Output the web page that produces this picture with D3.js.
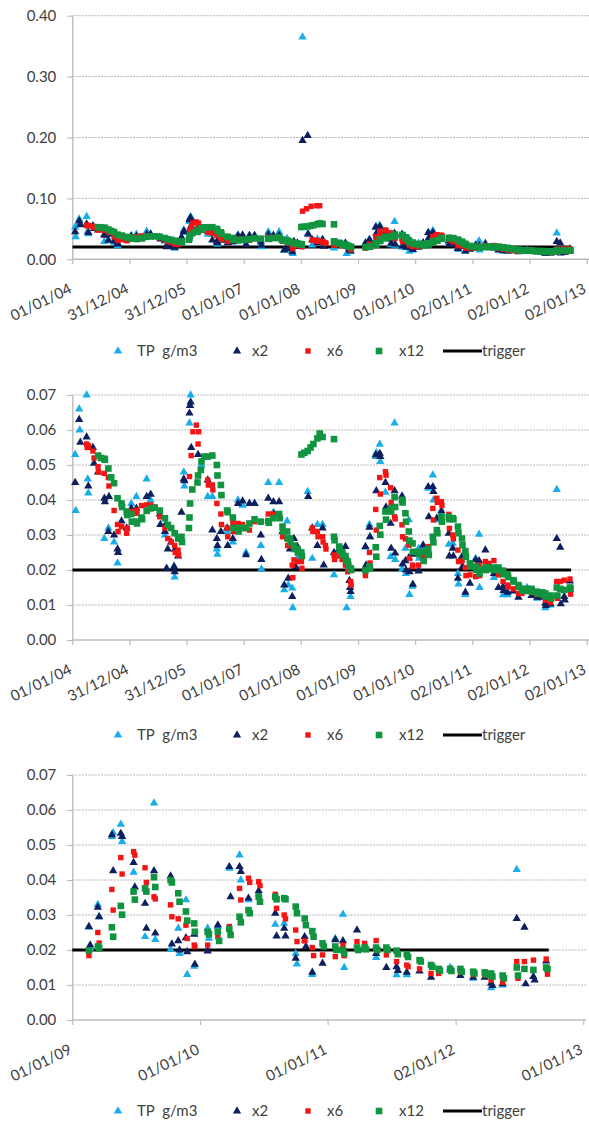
<!DOCTYPE html>
<html>
<head>
<meta charset="utf-8">
<script src="https://cdn.jsdelivr.net/npm/d3@7"></script>
<style>
  body { margin: 0; background: #fff; }
  svg text { font-family: Lato, "Open Sans", sans-serif; fill: #404040; }
</style>
</head>
<body>
<div id="chart"></div>
<script>
// TP sampling results plus the x2 / x6 / x12 series.
// x = decimal year, y = g/m3.
const tpPts = [
  [2004.05,0.053],[2004.06,0.037],[2004.12,0.066],[2004.13,0.060],[2004.25,0.070],[2004.27,0.046],[2004.28,0.042],
  [2004.56,0.029],[2004.63,0.032],[2004.73,0.028],[2004.79,0.022],
  [2005.03,0.039],[2005.12,0.041],[2005.30,0.046],[2005.37,0.040],[2005.62,0.030],[2005.78,0.021],[2005.79,0.018],
  [2005.80,0.026],[2005.95,0.048],[2005.96,0.044],
  [2006.05,0.062],[2006.06,0.067],[2006.07,0.070],[2006.26,0.050],[2006.37,0.041],[2006.45,0.041],[2006.53,0.026],
  [2006.54,0.0245],[2006.71,0.031],[2006.81,0.028],[2006.90,0.040],[2006.98,0.0385],
  [2007.04,0.025],[2007.10,0.039],[2007.19,0.039],[2007.30,0.027],[2007.31,0.0203],[2007.43,0.045],[2007.52,0.0365],
  [2007.62,0.045],[2007.71,0.0143],[2007.76,0.034],[2007.78,0.0157],[2007.85,0.0148],[2007.86,0.0092],[2007.94,0.0233],
  [2008.03,0.365],[2008.12,0.0424],[2008.20,0.0233],[2008.29,0.033],[2008.38,0.033],[2008.58,0.0186],[2008.72,0.026],
  [2008.80,0.0092],[2008.87,0.0124],
  [2009.13,0.0265],[2009.14,0.0205],[2009.20,0.033],[2009.21,0.0295],[2009.31,0.0524],[2009.32,0.0535],[2009.38,0.0559],
  [2009.39,0.051],[2009.48,0.0422],[2009.57,0.0238],[2009.64,0.062],[2009.65,0.023],[2009.77,0.0202],[2009.83,0.0262],
  [2009.84,0.019],[2009.89,0.0343],[2009.90,0.013],[2009.955,0.0153],
  [2010.06,0.0262],[2010.07,0.0233],[2010.14,0.0267],[2010.23,0.0433],[2010.31,0.0471],[2010.32,0.040],[2010.38,0.0343],
  [2010.46,0.036],[2010.59,0.0273],[2010.66,0.0276],[2010.75,0.019],[2010.76,0.016],[2010.82,0.0228],[2010.88,0.013],
  [2011.06,0.0233],[2011.12,0.0302],[2011.13,0.015],[2011.38,0.0178],[2011.54,0.0129],[2011.62,0.0129],[2011.96,0.015],
  [2012.14,0.0119],[2012.28,0.0092],[2012.37,0.0100],[2012.48,0.043]
];

const x2Pts = [
  [2004.05,0.045],[2004.12,0.063],[2004.14,0.0565],[2004.25,0.058],[2004.28,0.044],[2004.36,0.055],[2004.38,0.0505],
  [2004.45,0.048],[2004.56,0.0405],[2004.57,0.0395],[2004.63,0.031],[2004.64,0.041],[2004.73,0.030],[2004.79,0.026],
  [2004.80,0.025],[2004.86,0.034],[2004.95,0.032],
  [2005.03,0.0376],[2005.12,0.0376],[2005.30,0.041],[2005.37,0.0416],[2005.53,0.036],[2005.54,0.033],[2005.62,0.031],
  [2005.63,0.033],[2005.65,0.0205],[2005.67,0.026],[2005.73,0.028],[2005.78,0.021],[2005.79,0.0195],[2005.80,0.026],
  [2005.85,0.024],[2005.91,0.0365],[2005.95,0.046],[2005.96,0.0455],
  [2006.05,0.0648],[2006.06,0.067],[2006.07,0.068],[2006.08,0.055],[2006.20,0.053],[2006.37,0.0457],[2006.45,0.0314],
  [2006.53,0.029],[2006.54,0.027],[2006.60,0.031],[2006.71,0.032],[2006.72,0.027],[2006.81,0.029],[2006.90,0.039],
  [2006.98,0.0397],
  [2007.04,0.0243],[2007.10,0.039],[2007.19,0.039],[2007.30,0.030],[2007.31,0.023],[2007.43,0.0405],[2007.52,0.0395],
  [2007.53,0.036],[2007.62,0.0395],[2007.68,0.031],[2007.71,0.0157],[2007.78,0.0176],[2007.81,0.026],[2007.85,0.0124],
  [2007.88,0.029],[2007.91,0.021],[2007.94,0.0267],
  [2008.03,0.195],[2008.12,0.203],[2008.13,0.041],[2008.20,0.032],[2008.29,0.027],[2008.38,0.032],[2008.40,0.0214],
  [2008.58,0.025],[2008.67,0.026],[2008.78,0.0267],[2008.85,0.017],[2008.86,0.015],[2008.87,0.0138],
  [2009.13,0.0267],[2009.14,0.0214],[2009.20,0.0322],[2009.21,0.0295],[2009.31,0.0529],[2009.32,0.0426],[2009.38,0.0533],
  [2009.39,0.0524],[2009.48,0.045],[2009.49,0.038],[2009.57,0.0333],[2009.58,0.0262],[2009.64,0.0426],[2009.65,0.0248],
  [2009.77,0.0411],[2009.78,0.0217],[2009.83,0.0226],[2009.84,0.020],[2009.89,0.0235],[2009.90,0.0195],[2009.955,0.0245],
  [2009.96,0.0159],
  [2010.06,0.0197],[2010.14,0.0271],[2010.23,0.0438],[2010.24,0.0352],[2010.31,0.0438],[2010.32,0.0424],[2010.38,0.0348],
  [2010.46,0.0369],[2010.59,0.0305],[2010.60,0.024],[2010.66,0.0262],[2010.67,0.024],[2010.75,0.0176],[2010.82,0.0238],
  [2010.83,0.021],[2010.88,0.0136],[2010.96,0.0162],
  [2011.06,0.0229],[2011.12,0.0226],[2011.23,0.0257],[2011.38,0.019],[2011.46,0.015],[2011.54,0.0152],[2011.55,0.0141],
  [2011.62,0.0136],[2011.72,0.014],[2011.81,0.0122],[2011.96,0.0143],
  [2012.04,0.0127],[2012.14,0.0122],[2012.23,0.0122],[2012.28,0.0105],[2012.29,0.0098],[2012.37,0.0103],[2012.48,0.029],
  [2012.54,0.0265],[2012.55,0.0103],[2012.61,0.0124],[2012.62,0.0114],[2012.71,0.0168]
];

const x6Pts = [
  [2004.25,0.056],[2004.26,0.055],[2004.28,0.0555],[2004.36,0.054],[2004.38,0.052],[2004.45,0.0495],[2004.46,0.048],
  [2004.56,0.0476],[2004.63,0.0464],[2004.64,0.044],[2004.73,0.037],[2004.79,0.033],[2004.80,0.031],[2004.86,0.0324],
  [2004.95,0.0305],[2004.96,0.032],
  [2005.03,0.0367],[2005.12,0.037],[2005.13,0.0362],[2005.21,0.0384],[2005.30,0.0386],[2005.37,0.0386],[2005.44,0.038],
  [2005.53,0.0352],[2005.62,0.032],[2005.67,0.029],[2005.73,0.028],[2005.79,0.027],[2005.80,0.025],[2005.85,0.0257],
  [2005.86,0.0243],
  [2006.05,0.0467],[2006.08,0.0527],[2006.11,0.0595],[2006.17,0.0614],[2006.20,0.056],[2006.21,0.0595],[2006.37,0.0457],
  [2006.38,0.0443],[2006.45,0.0443],[2006.46,0.0429],[2006.53,0.039],[2006.60,0.036],[2006.61,0.033],[2006.71,0.032],
  [2006.72,0.0295],[2006.81,0.0336],[2006.82,0.031],[2006.90,0.0333],[2006.98,0.033],
  [2007.10,0.0314],[2007.19,0.0338],[2007.30,0.0338],[2007.43,0.036],[2007.52,0.036],[2007.68,0.0295],[2007.76,0.029],
  [2007.77,0.027],[2007.81,0.027],[2007.85,0.0214],[2007.86,0.0178],[2007.88,0.0229],[2007.94,0.0224],[2008.01,0.0224],
  [2008.02,0.0205],
  [2008.03,0.079],[2008.10,0.083],[2008.18,0.087],[2008.28,0.088],[2008.33,0.088],
  [2008.20,0.032],[2008.21,0.031],[2008.29,0.031],[2008.30,0.0295],[2008.38,0.0295],[2008.39,0.028],[2008.43,0.027],
  [2008.44,0.026],[2008.58,0.0243],[2008.59,0.023],[2008.67,0.024],[2008.72,0.023],[2008.78,0.0214],[2008.82,0.0195],
  [2008.87,0.0167],[2008.88,0.0157],
  [2009.13,0.0184],[2009.20,0.025],[2009.21,0.022],[2009.31,0.0373],[2009.32,0.0314],[2009.38,0.0464],[2009.39,0.0417],
  [2009.48,0.0481],[2009.49,0.0471],[2009.57,0.0435],[2009.58,0.0393],[2009.64,0.0352],[2009.65,0.0346],[2009.77,0.0329],
  [2009.78,0.0295],[2009.83,0.0289],[2009.89,0.0271],[2009.90,0.0233],[2009.955,0.0214],[2009.96,0.021],
  [2010.06,0.0214],[2010.14,0.0238],[2010.23,0.0267],[2010.31,0.0376],[2010.32,0.0343],[2010.38,0.0405],[2010.39,0.0393],
  [2010.46,0.0395],[2010.47,0.0384],[2010.59,0.0359],[2010.60,0.0319],[2010.66,0.030],[2010.67,0.0289],[2010.75,0.0257],
  [2010.76,0.0224],[2010.82,0.0226],[2010.88,0.0207],[2010.89,0.0184],[2010.96,0.0186],
  [2011.06,0.0181],[2011.12,0.0214],[2011.13,0.0184],[2011.23,0.0224],[2011.29,0.0219],[2011.38,0.0227],[2011.46,0.0186],
  [2011.54,0.0167],[2011.62,0.0157],[2011.63,0.0152],[2011.72,0.0146],[2011.81,0.0133],[2011.87,0.0133],[2011.96,0.0143],
  [2012.04,0.0136],[2012.14,0.0130],[2012.23,0.013],[2012.28,0.0114],[2012.37,0.0108],[2012.48,0.0167],[2012.49,0.0119],
  [2012.54,0.0167],[2012.61,0.0171],[2012.71,0.0174],[2012.72,0.0131]
];

const x12Pts = [
  [2004.45,0.0527],[2004.50,0.052],[2004.56,0.0518],[2004.57,0.0515],[2004.63,0.049],[2004.68,0.0465],[2004.73,0.0448],
  [2004.79,0.0405],[2004.86,0.039],[2004.87,0.038],[2004.95,0.0367],[2004.96,0.0357],
  [2005.03,0.036],[2005.04,0.0338],[2005.12,0.0338],[2005.13,0.0333],[2005.21,0.035],[2005.22,0.0345],[2005.30,0.0369],
  [2005.37,0.0376],[2005.44,0.0378],[2005.53,0.037],[2005.62,0.0348],[2005.67,0.0329],[2005.73,0.032],[2005.79,0.0305],
  [2005.85,0.029],[2005.91,0.0295],[2005.92,0.028],
  [2006.04,0.032],[2006.05,0.035],[2006.06,0.039],[2006.10,0.043],[2006.19,0.045],[2006.20,0.047],[2006.25,0.0486],
  [2006.26,0.051],[2006.31,0.0524],[2006.37,0.0524],[2006.45,0.0527],[2006.53,0.050],[2006.54,0.047],[2006.60,0.0443],
  [2006.61,0.0414],[2006.71,0.037],[2006.72,0.0365],[2006.81,0.035],[2006.82,0.032],[2006.90,0.032],[2006.91,0.031],
  [2006.98,0.032],
  [2007.04,0.032],[2007.10,0.0333],[2007.19,0.0345],[2007.30,0.0338],[2007.43,0.034],[2007.44,0.0335],[2007.52,0.0348],
  [2007.62,0.036],[2007.63,0.0348],[2007.68,0.0324],[2007.69,0.031],[2007.76,0.031],[2007.77,0.029],[2007.81,0.029],
  [2007.82,0.028],[2007.88,0.027],[2007.89,0.026],[2007.94,0.026],[2007.95,0.025],[2008.01,0.025],[2008.02,0.024],
  [2008.01,0.053],[2008.06,0.0535],[2008.12,0.054],[2008.17,0.055],[2008.22,0.056],[2008.29,0.0576],[2008.33,0.059],
  [2008.38,0.058],[2008.58,0.0574],
  [2008.58,0.0295],[2008.59,0.0285],[2008.67,0.0267],[2008.68,0.0257],[2008.72,0.025],[2008.73,0.0243],[2008.78,0.024],
  [2008.79,0.023],[2008.82,0.0224],[2008.83,0.0214],[2008.87,0.0205],[2008.88,0.020],
  [2009.13,0.0199],[2009.20,0.021],[2009.21,0.0205],[2009.31,0.0265],[2009.32,0.0238],[2009.38,0.0326],[2009.39,0.0301],
  [2009.48,0.0367],[2009.49,0.0344],[2009.57,0.0376],[2009.58,0.0367],[2009.64,0.0408],[2009.65,0.038],[2009.77,0.040],
  [2009.78,0.0393],[2009.83,0.0362],[2009.84,0.0338],[2009.89,0.031],[2009.90,0.0284],[2009.955,0.0276],[2009.96,0.0252],
  [2010.06,0.0252],[2010.07,0.0245],[2010.14,0.0252],[2010.15,0.0226],[2010.23,0.026],[2010.24,0.0243],[2010.31,0.0295],
  [2010.32,0.0279],[2010.38,0.0314],[2010.39,0.0305],[2010.46,0.0352],[2010.47,0.0338],[2010.59,0.0352],[2010.60,0.0345],
  [2010.66,0.0348],[2010.67,0.0345],[2010.75,0.0324],[2010.76,0.0305],[2010.82,0.029],[2010.83,0.0271],[2010.88,0.0254],
  [2010.89,0.0238],[2010.96,0.0219],[2010.97,0.021],
  [2011.06,0.021],[2011.07,0.020],[2011.12,0.020],[2011.13,0.019],[2011.23,0.0207],[2011.24,0.020],[2011.29,0.0207],
  [2011.30,0.0202],[2011.38,0.0207],[2011.39,0.020],[2011.46,0.0207],[2011.47,0.020],[2011.54,0.0198],[2011.55,0.0188],
  [2011.62,0.0188],[2011.63,0.018],[2011.72,0.0171],[2011.73,0.0167],[2011.81,0.0157],[2011.82,0.0152],[2011.87,0.0146],
  [2011.88,0.0141],[2011.96,0.0146],[2011.97,0.0140],
  [2012.04,0.0146],[2012.05,0.0138],[2012.14,0.0138],[2012.15,0.0133],[2012.23,0.0136],[2012.24,0.013],[2012.28,0.0133],
  [2012.29,0.0124],[2012.37,0.0127],[2012.38,0.0119],[2012.48,0.015],[2012.49,0.0127],[2012.54,0.0146],[2012.61,0.0143],
  [2012.71,0.015],[2012.72,0.0146]
];

const triggerValue = 0.02;
const triggerSpan = [2004.0, 2012.73];

const seriesNames = ["TP  g/m3", "x2", "x6", "x12", "trigger"];

const tickLabelsFull = ["01/01/04","31/12/04","31/12/05","01/01/07","01/01/08","01/01/09","01/01/10","02/01/11","02/01/12","02/01/13"];
const tickLabelsZoom = ["01/01/09","01/01/10","01/01/11","02/01/12","01/01/13"];
const yTicksWide = [0, 0.1, 0.2, 0.3, 0.4];
const yTicksNarrow = [0, 0.01, 0.02, 0.03, 0.04, 0.05, 0.06, 0.07];

const COL = { tp: '#17aeea', x2: '#0d1f5e', x6: '#f41414', x12: '#11943f', trig: '#000', axis: '#bcbcbc', grid: '#b3b3b3' };

const W = 589, H = 1122;
const parseTick = d3.timeParse("%d/%m/%y");

function yearToDate(v) {
  const yr = Math.floor(v);
  const a = new Date(yr, 0, 1).getTime(), b = new Date(yr + 1, 0, 1).getTime();
  return new Date(a + (v - yr) * (b - a));
}

const panels = [
  { top: 15.7, bottom: 259.3, yTicks: yTicksWide,   xLabels: tickLabelsFull, right: 586.7, gridRight: 589, legendY: 351 },
  { top: 395,  bottom: 640,   yTicks: yTicksNarrow, xLabels: tickLabelsFull, right: 586.7, gridRight: 589, legendY: 735 },
  { top: 775,  bottom: 1020,  yTicks: yTicksNarrow, xLabels: tickLabelsZoom, right: 583.3, gridRight: 586, legendY: 1111 }
];
const LEFT = 72.3;

const svg = d3.select('#chart').append('svg')
  .attr('width', W).attr('height', H)
  .attr('viewBox', `0 0 ${W} ${H}`);

const triPath = d3.symbol(d3.symbolTriangle, 30)();

const series = [
  { pts: tpPts,  kind: 'tri', color: COL.tp },
  { pts: x2Pts,  kind: 'tri', color: COL.x2 },
  { pts: x6Pts,  kind: 'sq',  color: COL.x6,  size: 5.4 },
  { pts: x12Pts, kind: 'sq',  color: COL.x12, size: 6.6 }
];

panels.forEach((p, pi) => {
  const tickDates = p.xLabels.map(parseTick);
  const x = d3.scaleTime().domain([tickDates[0], tickDates[tickDates.length - 1]]).range([LEFT, p.right]);
  const yMax = p.yTicks[p.yTicks.length - 1];
  const y = d3.scaleLinear().domain([0, yMax]).range([p.bottom, p.top]);
  const g = svg.append('g');

  // dotted gridlines
  g.append('g').selectAll('line').data(p.yTicks.slice(1)).join('line')
    .attr('x1', LEFT).attr('x2', p.gridRight)
    .attr('y1', d => y(d)).attr('y2', d => y(d))
    .attr('stroke', COL.grid).attr('stroke-width', 1).attr('stroke-dasharray', '2,1.2');

  // y axis
  const ya = g.append('g').attr('transform', `translate(${LEFT},0)`)
    .call(d3.axisLeft(y).tickValues(p.yTicks).tickFormat(d3.format('.2f')).tickSize(5).tickSizeOuter(0).tickPadding(11));
  ya.select('.domain').attr('stroke', COL.axis).attr('stroke-width', 1.4);
  ya.selectAll('.tick line').attr('stroke', COL.axis).attr('stroke-width', 1.2);
  ya.selectAll('text').attr('font-size', 15).attr('fill', '#404040').attr('font-family', 'Lato, sans-serif');

  // x axis
  const xa = g.append('g').attr('transform', `translate(0,${p.bottom})`)
    .call(d3.axisBottom(x).tickValues(tickDates).tickFormat(d3.timeFormat('%d/%m/%y')).tickSize(5).tickSizeOuter(0));
  xa.select('.domain').attr('stroke', COL.axis).attr('stroke-width', 1.4)
    .attr('d', `M${LEFT},0H${p.gridRight}`);
  xa.selectAll('.tick line').attr('stroke', COL.axis).attr('stroke-width', 1.2);
  xa.selectAll('text')
    .attr('font-size', 15).attr('fill', '#404040').attr('font-family', 'Lato, sans-serif')
    .attr('text-anchor', 'end').attr('x', 0).attr('y', 0).attr('dy', 0)
    .attr('transform', 'translate(0,33) rotate(-26)');

  // trigger line (clipped to the plot)
  const clipId = 'clip' + pi;
  svg.append('clipPath').attr('id', clipId).append('rect')
    .attr('x', LEFT).attr('y', p.top).attr('width', p.right - LEFT).attr('height', p.bottom - p.top);
  g.append('line')
    .attr('clip-path', `url(#${clipId})`)
    .attr('x1', x(yearToDate(triggerSpan[0]))).attr('x2', x(yearToDate(triggerSpan[1])))
    .attr('y1', y(triggerValue)).attr('y2', y(triggerValue))
    .attr('stroke', COL.trig).attr('stroke-width', 3);

  // markers; Excel hides points that fall outside the axis range
  const [d0, d1] = x.domain();
  series.forEach(s => {
    const vis = s.pts.filter(d => d[1] <= yMax && yearToDate(d[0]) >= d0 && yearToDate(d[0]) <= d1);
    const layer = g.append('g');
    if (s.kind === 'tri') {
      layer.selectAll('path').data(vis).join('path')
        .attr('d', triPath)
        .attr('transform', d => `translate(${x(yearToDate(d[0]))},${y(d[1])})`)
        .attr('fill', s.color);
    } else {
      layer.selectAll('rect').data(vis).join('rect')
        .attr('x', d => x(yearToDate(d[0])) - s.size / 2)
        .attr('y', d => y(d[1]) - s.size / 2)
        .attr('width', s.size).attr('height', s.size)
        .attr('fill', s.color);
    }
  });

  // legend
  const lg = g.append('g').attr('transform', `translate(0,${p.legendY})`);
  const legendItems = [
    { mark: 'tri', color: COL.tp,  mx: 118, tx: 137 },
    { mark: 'tri', color: COL.x2,  mx: 237, tx: 252 },
    { mark: 'sq',  color: COL.x6,  mx: 308, tx: 327, size: 5.4 },
    { mark: 'sq',  color: COL.x12, mx: 379, tx: 399, size: 6.6 },
    { mark: 'line', color: COL.trig, mx: 443, tx: 482 }
  ];
  legendItems.forEach((it, i) => {
    if (it.mark === 'tri') {
      lg.append('path').attr('d', triPath).attr('transform', `translate(${it.mx},0)`).attr('fill', it.color);
    } else if (it.mark === 'sq') {
      lg.append('rect').attr('x', it.mx - it.size / 2).attr('y', -it.size / 2)
        .attr('width', it.size).attr('height', it.size).attr('fill', it.color);
    } else {
      lg.append('line').attr('x1', it.mx).attr('x2', it.tx).attr('y1', 0).attr('y2', 0)
        .attr('stroke', it.color).attr('stroke-width', 3);
    }
    lg.append('text').attr('x', it.tx).attr('y', 0).attr('dy', '0.35em')
      .attr('font-size', 15).style('white-space', 'pre')
      .text(seriesNames[i]);
  });
});
</script>
</body>
</html>
